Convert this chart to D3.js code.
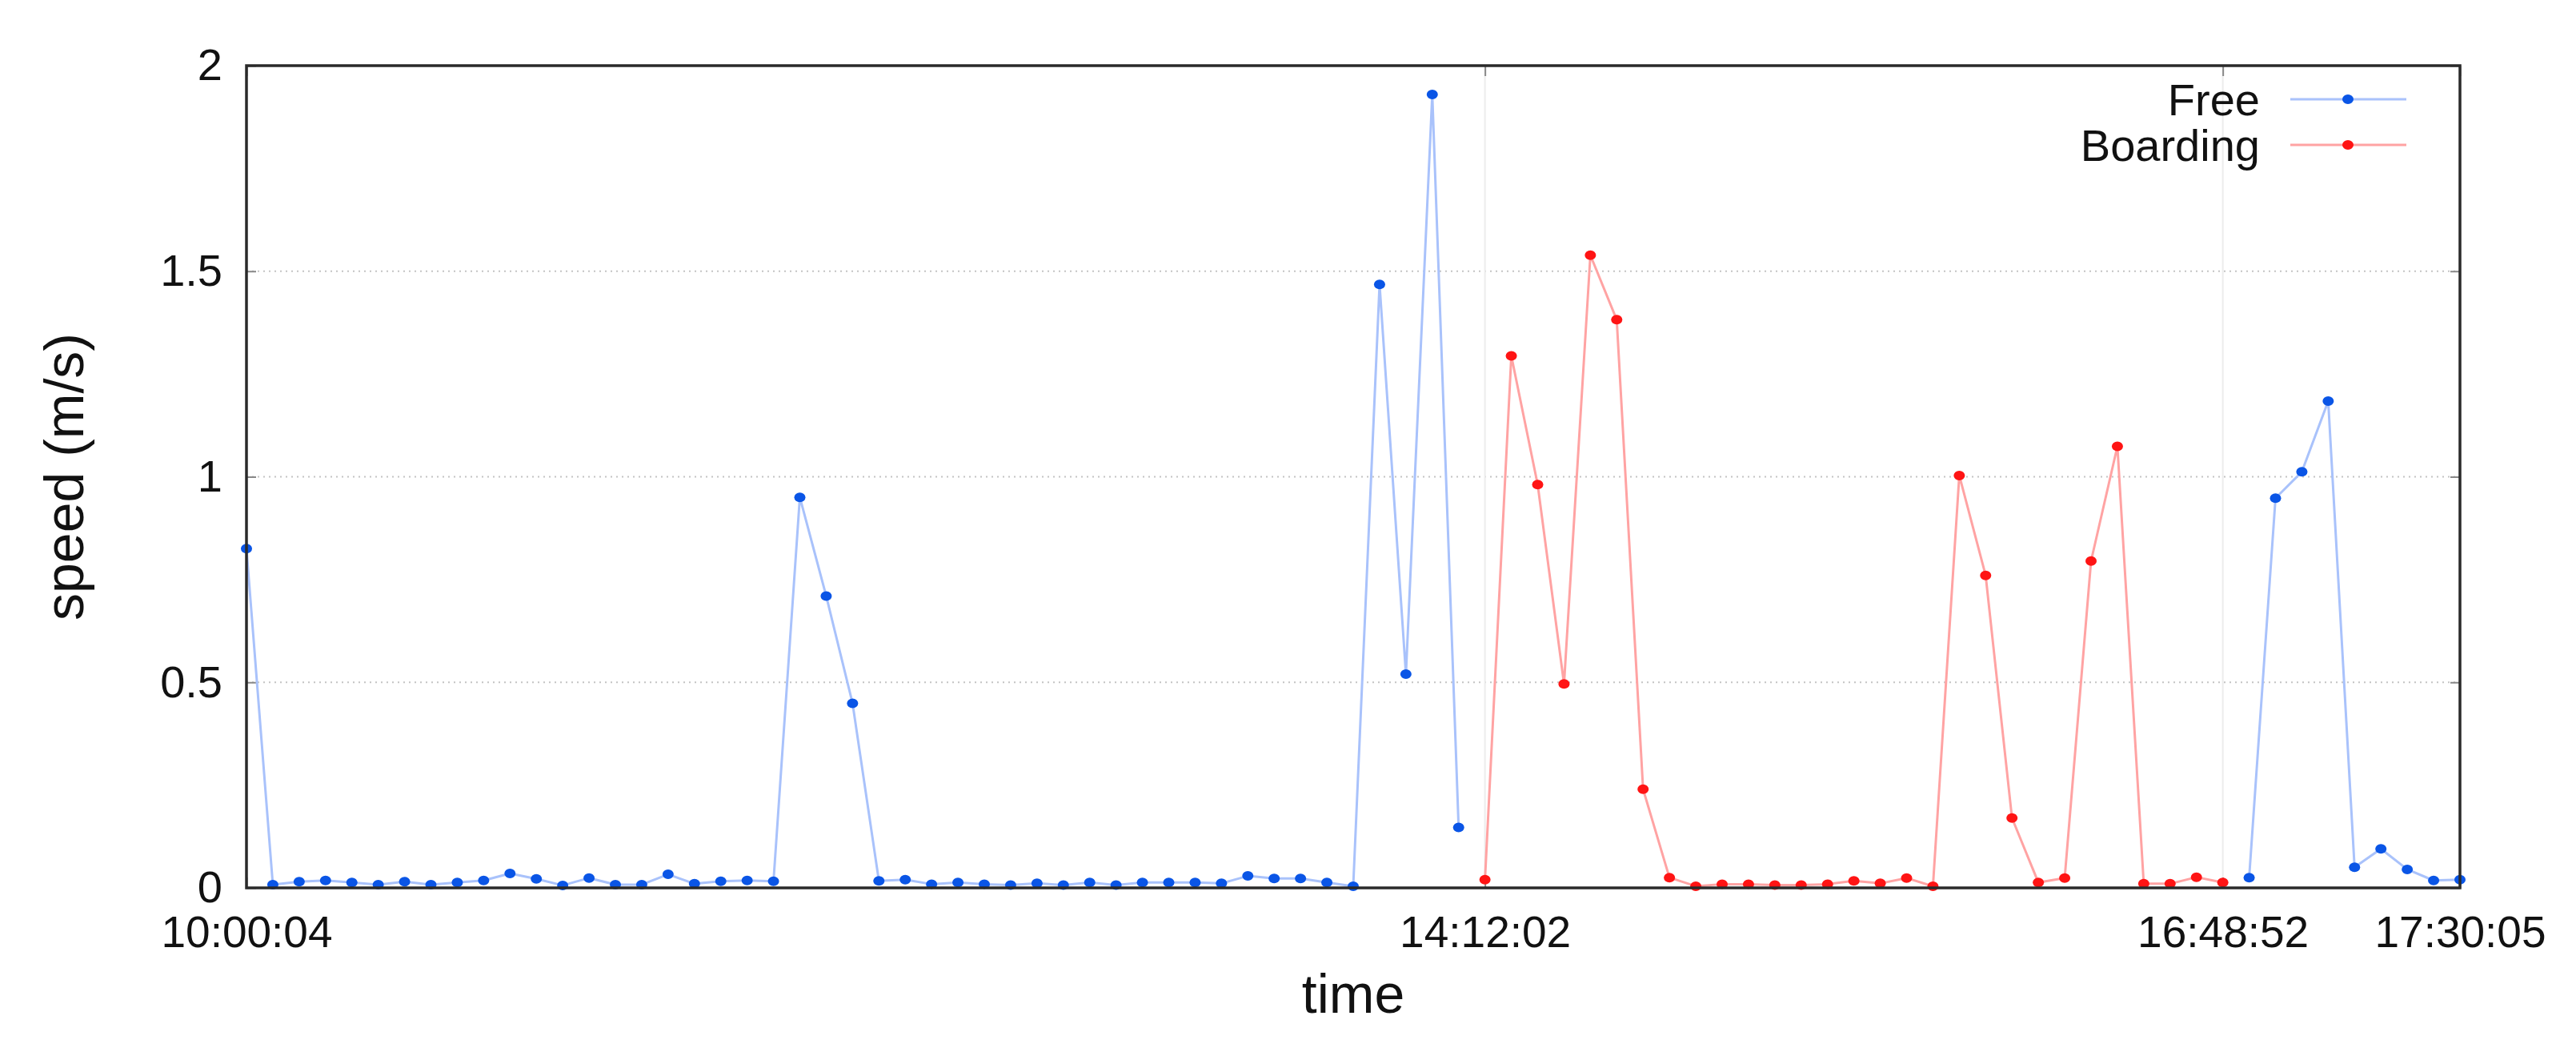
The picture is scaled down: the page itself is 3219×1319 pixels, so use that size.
<!DOCTYPE html>
<html>
<head>
<meta charset="utf-8">
<script src="https://cdn.jsdelivr.net/npm/d3@7"></script>
<style>
  html, body { margin: 0; padding: 0; background: #ffffff; }
  svg { display: block; }
  text { font-family: "Liberation Sans", Arial, Helvetica, sans-serif; fill: #111; }
</style>
</head>
<body>
<svg id="chart" width="3219" height="1319"></svg>
<script>
// ---- data ----
const sampleIndex = d3.range(85); // sample number along the time axis

const freeSpeed = [
  0.825, 0.008, 0.015, 0.018, 0.013, 0.008, 0.015, 0.008, 0.013, 0.018,
  0.035, 0.022, 0.006, 0.024, 0.008, 0.008, 0.033, 0.010, 0.016, 0.018,
  0.016, 0.950, 0.710, 0.449, 0.017, 0.020, 0.009, 0.013, 0.009, 0.007,
  0.011, 0.007, 0.013, 0.007, 0.013, 0.013, 0.013, 0.011, 0.029, 0.023,
  0.023, 0.013, 0.004, 1.468, 0.520, 1.930, 0.147,
  null, null, null, null, null, null, null, null, null, null,
  null, null, null, null, null, null, null, null, null, null,
  null, null, null, null, null, null, null, null, null,
  0.025, 0.948, 1.012, 1.184, 0.050, 0.095, 0.045, 0.018, 0.020
];

const boardingSpeed = [
  null, null, null, null, null, null, null, null, null, null,
  null, null, null, null, null, null, null, null, null, null,
  null, null, null, null, null, null, null, null, null, null,
  null, null, null, null, null, null, null, null, null, null,
  null, null, null, null, null, null, null,
  0.020, 1.294, 0.981, 0.496, 1.539, 1.382, 0.240, 0.025, 0.004, 0.009,
  0.009, 0.007, 0.007, 0.009, 0.017, 0.011, 0.024, 0.004, 1.003, 0.760,
  0.170, 0.013, 0.024, 0.795, 1.074, 0.010, 0.010, 0.026, 0.013,
  null, null, null, null, null, null, null, null, null
];

const xTickIndex = [0, 47, 75, 84];
const xTickLabels = ["10:00:04", "14:12:02", "16:48:52", "17:30:05"];
const yTicks = [0, 0.5, 1, 1.5, 2];
const yTickLabels = ["0", "0.5", "1", "1.5", "2"];
const seriesNames = ["Free", "Boarding"];

// ---- layout ----
const svg = d3.select("#chart");
const W = 3219, H = 1319;
const L = 308, R = 3074, T = 82, B = 1109;

svg.append("rect").attr("width", W).attr("height", H).attr("fill", "#ffffff");

const x = d3.scaleLinear().domain([0, 84]).range([L, R]);
const y = d3.scaleLinear().domain([0, 2]).range([B, T]);

const colors = {
  Free: { line: "#a9c2fb", dot: "#0a55e6" },
  Boarding: { line: "#ffa3a3", dot: "#ff1414" }
};

// grid
const grid = svg.append("g");
grid.selectAll("line.h").data(yTicks.slice(1, -1)).enter().append("line")
  .attr("x1", L).attr("x2", R)
  .attr("y1", d => y(d)).attr("y2", d => y(d))
  .attr("stroke", "#c4c4c4").attr("stroke-width", 2)
  .attr("stroke-dasharray", "2,5");
grid.selectAll("line.v").data(xTickIndex.slice(1, -1)).enter().append("line")
  .attr("x1", d => x(d)).attr("x2", d => x(d))
  .attr("y1", T).attr("y2", B)
  .attr("stroke", "#ececec").attr("stroke-width", 2);

// axes (inward ticks)
const axB = svg.append("g").attr("transform", `translate(0,${B})`)
  .call(d3.axisBottom(x).tickValues(xTickIndex)
    .tickFormat((d, i) => xTickLabels[i]).tickSize(-13).tickPadding(35));
const axT = svg.append("g").attr("transform", `translate(0,${T})`)
  .call(d3.axisTop(x).tickValues(xTickIndex).tickFormat("").tickSize(-13));
const axL = svg.append("g").attr("transform", `translate(${L},0)`)
  .call(d3.axisLeft(y).tickValues(yTicks)
    .tickFormat((d, i) => yTickLabels[i]).tickSize(-12).tickPadding(30));
const axR = svg.append("g").attr("transform", `translate(${R},0)`)
  .call(d3.axisRight(y).tickValues(yTicks).tickFormat("").tickSize(-12));

[axB, axT, axL, axR].forEach(a => {
  a.select(".domain").remove();
  a.selectAll(".tick line").attr("stroke", "#888").attr("stroke-width", 2);
});
axB.selectAll("text").style("font-size", "55px").attr("fill", "#111");
axL.selectAll("text").style("font-size", "56px").attr("fill", "#111");

// series
function drawSeries(values, name) {
  const pts = sampleIndex.map(i => ({ i, v: values[i] }));
  const line = d3.line()
    .defined(d => d.v !== null)
    .x(d => x(d.i)).y(d => y(d.v));
  svg.append("path").datum(pts)
    .attr("d", line)
    .attr("fill", "none")
    .attr("stroke", colors[name].line)
    .attr("stroke-width", 3)
    .attr("stroke-linejoin", "round");
  svg.append("g").selectAll("ellipse")
    .data(pts.filter(d => d.v !== null)).enter().append("ellipse")
    .attr("cx", d => x(d.i)).attr("cy", d => y(d.v))
    .attr("rx", 7).attr("ry", 6).attr("fill", colors[name].dot);
}
drawSeries(freeSpeed, "Free");
drawSeries(boardingSpeed, "Boarding");

// frame
svg.append("rect")
  .attr("x", L).attr("y", T).attr("width", R - L).attr("height", B - T)
  .attr("fill", "none").attr("stroke", "#2a2a2a").attr("stroke-width", 3.5);

// legend
const leg = svg.append("g");
const legY = [124, 181];
seriesNames.forEach((name, k) => {
  const g = leg.append("g").attr("transform", `translate(0,${legY[k]})`);
  g.append("text").attr("x", 2824).attr("y", 0).attr("dy", "0.36em")
    .attr("text-anchor", "end").style("font-size", "56px").text(name);
  g.append("line").attr("x1", 2862).attr("x2", 3007).attr("y1", 0).attr("y2", 0)
    .attr("stroke", colors[name].line).attr("stroke-width", 3);
  g.append("ellipse").attr("cx", 2934).attr("cy", 0).attr("rx", 7).attr("ry", 6)
    .attr("fill", colors[name].dot);
});

// axis titles
svg.append("text").attr("x", (L + R) / 2).attr("y", 1265)
  .attr("text-anchor", "middle").style("font-size", "68px").text("time");
svg.append("text")
  .attr("transform", `translate(104,${(T + B) / 2}) rotate(-90)`)
  .attr("text-anchor", "middle").style("font-size", "68px").text("speed (m/s)");
</script>
</body>
</html>
